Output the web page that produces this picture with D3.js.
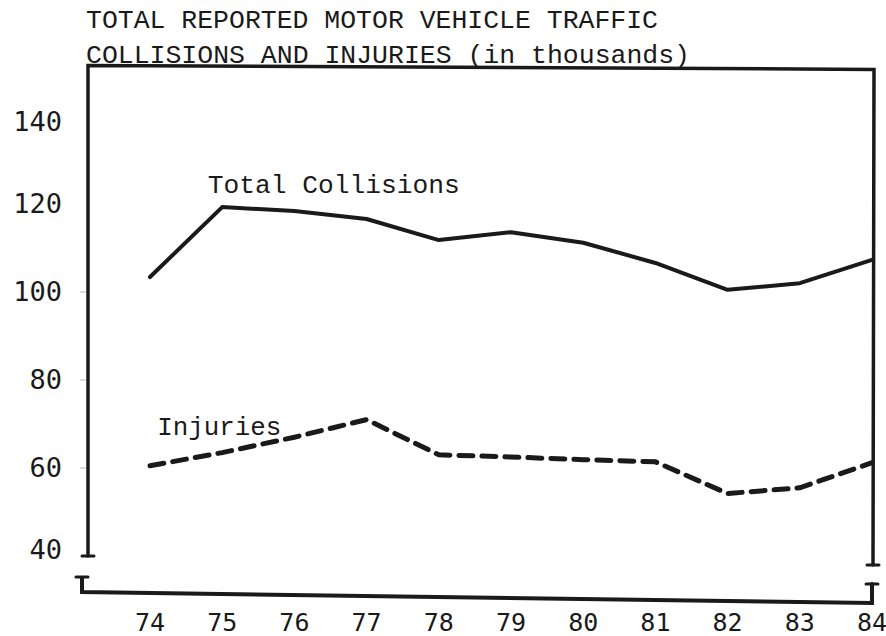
<!DOCTYPE html>
<html lang="en">
<head>
	<meta charset="UTF-8">
	<title>Collisions and Injuries</title>
	<script src="https://d3js.org/d3.v7.min.js"></script>
	<style>
		body { margin: 0; background: #fff; }
		svg { display: block; }
		.type { font-family: "Liberation Mono", "DejaVu Sans Mono", monospace; fill: #1a1a1a; }
		.lbl { font-family: "DejaVu Sans Mono", monospace; fill: #1a1a1a; }
	</style>
</head>
<body>
	<svg width="886" height="636"></svg>
	<script>
		// data (thousands)
		const years = [74, 75, 76, 77, 78, 79, 80, 81, 82, 83, 84];
		const collisions = [103.4, 119.3, 118.4, 116.6, 111.8, 113.6, 111.2, 106.6, 100.5, 102.0, 107.3];
		const injuries = [60.5, 63.5, 67.0, 71.0, 63.0, 62.5, 61.9, 61.4, 54.2, 55.5, 61.2];
		const yTicks = [40, 60, 80, 100, 120, 140];
		const titleLines = ["TOTAL REPORTED MOTOR VEHICLE TRAFFIC", "COLLISIONS AND INJURIES (in thousands)"];

		const svg = d3.select("svg");
		const ink = "#1a1a1a";

		const x = d3.scaleLinear().domain([74, 84]).range([150, 872]);
		const y = d3.scaleLinear().domain([40, 140]).range([556, 116]);

		const frameLeft = 86, frameRight = 874, frameTop = y(151.5), frameBottom = 597;

		// title
		svg.selectAll(".title")
			.data(titleLines)
			.enter().append("text")
			.attr("class", "type")
			.attr("x", 86)
			.attr("y", (d, i) => 28 + i * 35)
			.attr("textLength", d => d.length * 16 - 4)
			.attr("lengthAdjust", "spacingAndGlyphs")
			.style("font-size", "25px")
			.text(d => d);

		// frame: top, left and right sides broken near 40
		const frame = svg.append("g")
			.attr("stroke", ink)
			.attr("fill", "none")
			.attr("stroke-linecap", "round");

		frame.append("path")
			.attr("stroke-width", 3.5)
			.attr("d", d3.line()([[frameLeft + 2, y(40)], [frameLeft + 2, frameTop], [frameRight, frameTop + 4], [frameRight - 1, y(40) + 9]]));
		// end bars of the broken verticals
		frame.append("path")
			.attr("stroke-width", 3)
			.attr("d", "M" + (frameLeft - 4) + "," + y(40) + "H" + (frameLeft + 8)
				+ "M" + (frameRight - 7) + "," + (y(40) + 9) + "H" + (frameRight + 5));
		// lower stubs and bottom axis
		frame.append("path")
			.attr("stroke-width", 4)
			.attr("d", d3.line()([[frameLeft - 4, frameBottom - 19], [frameLeft - 4, frameBottom - 5], [frameRight - 2, frameBottom + 6], [frameRight - 2, frameBottom - 13]]));
		frame.append("path")
			.attr("stroke-width", 3)
			.attr("d", "M" + (frameLeft - 10) + "," + (frameBottom - 20) + "H" + (frameLeft + 2)
				+ "M" + (frameRight - 8) + "," + (frameBottom - 13) + "H" + (frameRight + 4));

		// faint y ticks
		svg.append("g")
			.selectAll("line")
			.data(yTicks.slice(1, 4))
			.enter().append("line")
			.attr("x1", frameLeft - 6).attr("x2", frameLeft)
			.attr("y1", d => y(d)).attr("y2", d => y(d))
			.attr("stroke", "#bbb").attr("stroke-width", 1);

		// y labels
		svg.append("g")
			.selectAll("text")
			.data(yTicks)
			.enter().append("text")
			.attr("class", "lbl")
			.attr("x", 62)
			.attr("y", d => y(d) + (d === 140 ? 6 : d === 40 ? -6 : 0))
			.attr("dy", "0.35em")
			.attr("text-anchor", "end")
			.style("font-size", "27px")
			.text(d => d);

		// x labels
		svg.append("g")
			.selectAll("text")
			.data(years)
			.enter().append("text")
			.attr("class", "lbl")
			.attr("x", d => x(d))
			.attr("y", 631)
			.attr("text-anchor", "middle")
			.style("font-size", "25px")
			.text(d => d);

		// series
		const line = (vals) => d3.line()
			.x((d, i) => x(years[i]))
			.y(d => y(d))(vals);

		svg.append("path")
			.attr("d", line(collisions))
			.attr("fill", "none")
			.attr("stroke", ink)
			.attr("stroke-width", 4)
			.attr("stroke-linejoin", "round")
			.attr("stroke-linecap", "round");

		svg.append("path")
			.attr("d", line(injuries))
			.attr("fill", "none")
			.attr("stroke", ink)
			.attr("stroke-width", 5)
			.attr("stroke-dasharray", "14,9")
			.attr("stroke-linecap", "round");

		// series labels
		svg.append("text")
			.attr("class", "type")
			.attr("x", x(74.8))
			.attr("y", y(119.3) - 14)
			.attr("textLength", 16 * 16 - 4)
			.attr("lengthAdjust", "spacingAndGlyphs")
			.style("font-size", "25px")
			.text("Total Collisions");

		svg.append("text")
			.attr("class", "type")
			.attr("x", x(74.1))
			.attr("y", y(71) + 15)
			.attr("textLength", 8 * 16 - 4)
			.attr("lengthAdjust", "spacingAndGlyphs")
			.style("font-size", "25px")
			.text("Injuries");
	</script>
</body>
</html>
